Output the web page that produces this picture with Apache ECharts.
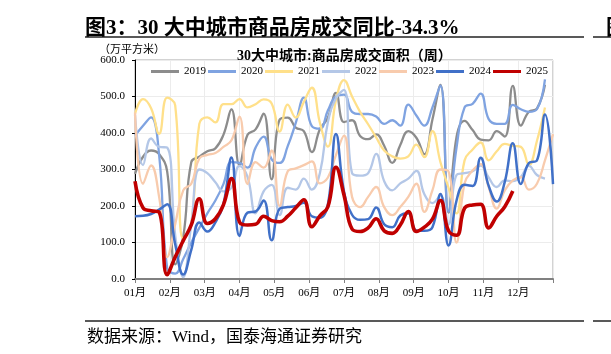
<!DOCTYPE html>
<html>
<head>
<meta charset="utf-8">
<script src="https://cdn.jsdelivr.net/npm/echarts@6/dist/echarts.min.js"></script>
<style>
  html, body { margin: 0; padding: 0; background: #fff; }
  #chart { width: 611px; height: 354px; }
</style>
</head>
<body>
<div id="chart"></div>
<script>
// 每周数据（万平方米），按周序号排列
var years = ['2019', '2020', '2021', '2022', '2023', '2024', '2025'];
var monthLabels = ['01月', '02月', '03月', '04月', '05月', '06月', '07月', '08月', '09月', '10月', '11月', '12月'];

var y2019 = [288, 335, 352, 342, 295, 40, 115, 320, 335, 350, 358, 395, 465, 312, 395, 410, 453, 273, 437, 442, 415, 405, 348, 410, 442, 510, 430, 435, 392, 383, 396, 365, 318, 367, 405, 387, 342, 437, 532, 182, 389, 433, 408, 382, 380, 405, 390, 529, 420, 458, 467, 532];
var y2020 = [393, 420, 443, 340, 30, 15, 55, 100, 140, 180, 215, 260, 320, 318, 305, 360, 390, 328, 318, 364, 428, 497, 419, 412, 462, 500, 505, 458, 452, 452, 445, 425, 435, 420, 478, 448, 420, 470, 530, 185, 360, 470, 480, 508, 438, 425, 425, 477, 465, 458, 465, 547];
var y2021 = [452, 493, 468, 398, 497, 476, 110, 150, 425, 443, 429, 479, 479, 493, 470, 479, 492, 481, 404, 478, 442, 485, 524, 428, 363, 490, 545, 500, 458, 424, 388, 352, 336, 330, 336, 368, 334, 405, 320, 250, 180, 325, 355, 374, 325, 350, 370, 365, 362, 312, 378, 470];
var y2022 = [450, 312, 385, 362, 360, 120, 5, 150, 300, 290, 265, 240, 250, 310, 280, 180, 240, 258, 175, 250, 245, 275, 245, 290, 430, 495, 518, 290, 283, 290, 343, 268, 243, 262, 275, 296, 232, 208, 228, 150, 285, 290, 295, 311, 278, 252, 270, 268, 280, 310, 285, 275];
var y2023 = [456, 261, 311, 225, 60, 150, 243, 261, 330, 340, 345, 362, 380, 445, 260, 320, 305, 352, 200, 295, 303, 312, 322, 262, 278, 340, 393, 225, 197, 225, 252, 197, 175, 197, 225, 261, 184, 243, 300, 295, 100, 262, 297, 315, 252, 193, 243, 270, 279, 245, 261, 325, 397];
var y2024 = [172, 173, 178, 190, 205, 95, 12, 80, 155, 130, 155, 205, 333, 118, 182, 185, 215, 106, 193, 197, 200, 209, 172, 168, 205, 397, 240, 176, 162, 164, 196, 150, 142, 174, 180, 133, 132, 142, 233, 92, 215, 258, 255, 332, 255, 212, 266, 372, 260, 318, 325, 451, 260];
var y2025 = [268, 195, 187, 183, 12, 60, 105, 148, 220, 152, 165, 203, 275, 156, 148, 150, 172, 160, 157, 172, 195, 217, 143, 173, 198, 306, 230, 137, 130, 140, 165, 132, 125, 148, 185, 130, 142, 164, 215, 132, 120, 194, 203, 205, 140, 172, 198, 241];

var yearData = [y2019, y2020, y2021, y2022, y2023, y2024, y2025];
var colors = ['#8c8c8c', '#7fa3e1', '#ffe08a', '#b4c7e7', '#f8cbad', '#4070c8', '#c00000'];
var widths = [2.3, 2.3, 2.3, 2.3, 2.3, 2.5, 3.6];

var serif = "'Liberation Serif', 'Noto Sans CJK SC', serif";

// 周序号 -> 月份位置（一年52周）
function toPoints(arr) {
    return arr.map(function (v, i) { return [i * 12 / 52, v]; });
}

var chart = echarts.init(document.getElementById('chart'), null, { renderer: 'canvas' });

var series = years.map(function (y, k) {
    return {
        name: y,
        type: 'line',
        smooth: 0.45,
        showSymbol: false,
        symbol: 'none',
        z: 2 + k,
        data: toPoints(yearData[k]),
        lineStyle: { color: colors[k], width: widths[k] },
        itemStyle: { color: colors[k] }
    };
});

var option = {
    animation: false,
    backgroundColor: '#fff',
    title: [
        {
            text: '图3：30 大中城市商品房成交同比-34.3%',
            left: 80, top: 13,
            textStyle: { fontFamily: serif, fontSize: 21, fontWeight: 'bold', color: '#000' }
        },
        {
            text: '图',
            left: 601, top: 13,
            textStyle: { fontFamily: serif, fontSize: 21, fontWeight: 'bold', color: '#000' }
        },
        {
            text: '（万平方米）',
            left: 94, top: 40,
            textStyle: { fontFamily: serif, fontSize: 11, fontWeight: 'normal', color: '#000' }
        },
        {
            text: '30大中城市:商品房成交面积（周）',
            left: 232, top: 44,
            textStyle: { fontFamily: serif, fontSize: 14, fontWeight: 'bold', color: '#000' }
        },
        {
            text: '数据来源：Wind，国泰海通证券研究',
            left: 82, top: 324,
            textStyle: { fontFamily: serif, fontSize: 17, fontWeight: 'normal', color: '#000' }
        }
    ],
    graphic: [
        { type: 'line', shape: { x1: 85, y1: 37, x2: 584, y2: 37 }, style: { stroke: '#222', lineWidth: 1.5 } },
        { type: 'line', shape: { x1: 593, y1: 37, x2: 611, y2: 37 }, style: { stroke: '#222', lineWidth: 1.5 } },
        { type: 'line', shape: { x1: 85, y1: 321, x2: 584, y2: 321 }, style: { stroke: '#222', lineWidth: 1.5 } },
        { type: 'line', shape: { x1: 593, y1: 321, x2: 611, y2: 321 }, style: { stroke: '#222', lineWidth: 1.5 } }
    ],
    legend: {
        data: years,
        left: 146, top: 61,
        icon: 'rect',
        itemWidth: 28, itemHeight: 3,
        itemGap: 2,
        textStyle: { fontFamily: serif, fontSize: 11, color: '#000' }
    },
    grid: {
        left: 135, right: 58, top: 60, bottom: 75,
        show: true, borderColor: '#a6a6a6', borderWidth: 1
    },
    xAxis: {
        type: 'value',
        min: 0, max: 12, interval: 1,
        axisLine: { lineStyle: { color: '#808080', width: 2 } },
        axisTick: { show: true, length: 4, lineStyle: { color: '#808080' } },
        axisLabel: {
            fontFamily: serif, fontSize: 11, color: '#000', margin: 9,
            formatter: function (v) { return v < 12 ? monthLabels[Math.round(v)] : ''; }
        },
        splitLine: { show: true, lineStyle: { color: '#ececec', width: 1 } }
    },
    yAxis: {
        type: 'value',
        min: 0, max: 600, interval: 100,
        axisLine: { show: true, lineStyle: { color: '#000', width: 1 } },
        axisTick: { show: true, length: 3, lineStyle: { color: '#000' } },
        axisLabel: {
            fontFamily: serif, fontSize: 11, color: '#000', margin: 10,
            formatter: function (v) { return v.toFixed(1); }
        },
        splitLine: { show: true, lineStyle: { color: '#ececec', width: 1 } }
    },
    series: series
};

chart.setOption(option);
</script>
</body>
</html>
